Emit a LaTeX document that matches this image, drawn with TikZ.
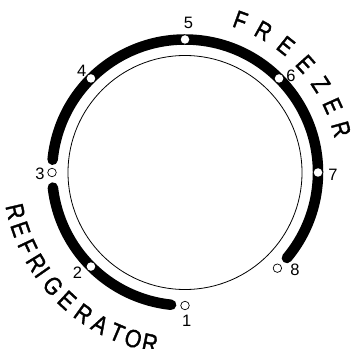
\documentclass[tikz,border=0pt]{standalone}
\usepackage{fontspec}
\setmainfont{Liberation Sans}
\newfontfamily\dialfont[FakeBold=1.5]{Liberation Sans}
\usetikzlibrary{calc}
\begin{document}
\begin{tikzpicture}[x=1pt,y=1pt,
  band/.style={line width=10.5pt, line cap=round},
  ring/.style={line width=0.8pt},
  ondot/.style={circle, fill=white, inner sep=0pt, minimum size=8.5pt},
  offdot/.style={circle, draw, line width=0.7pt, fill=white, inner sep=0pt, minimum size=8.5pt},
  num/.style={font=\fontsize{16.5}{18}\selectfont, inner sep=0pt},
  letter/.style={font=\dialfont\fontsize{25}{26}\selectfont, inner sep=0pt}]
\useasboundingbox (0,0) rectangle (355,348);
\coordinate (c) at (185,175.5);
% inner ring
\draw[ring] (c) circle[radius=117];
% thick bands
\draw[band] ($(c)+(174.5:133)$) arc[start angle=174.5, end angle=-40, radius=133];
\draw[band] ($(c)+(186.5:133)$) arc[start angle=186.5, end angle=264, radius=133];
% dots on the band
\node[ondot] (d2) at ($(c)+(225:133)$) {};
\node[ondot] (d4) at ($(c)+(135:133)$) {};
\node[ondot] (d5) at ($(c)+(90:133)$) {};
\node[ondot] (d6) at ($(c)+(45:133)$) {};
\node[ondot] (d7) at ($(c)+(0:133)$) {};
% hollow dots
\node[offdot] (d1) at ($(c)+(270:133)$) {};
\node[offdot] (d3) at ($(c)+(180:133)$) {};
\node[offdot] (d8) at ($(c)+(314:133)$) {};
% numbers
\node[num] (n1) at (186.7,27) {1};
\node[num] (n2) at (77.5,75.3) {2};
\node[num] (n3) at (40,174) {3};
\node[num] (n4) at (81.7,277.3) {4};
\node[num] (n5) at (188.5,325) {5};
\node[num] (n6) at (291,272) {6};
\node[num] (n7) at (333,173) {7};
\node[num] (n8) at (295,78) {8};
% FREEZER
\foreach \a/\l [count=\i] in {70/F,61/R,51.5/E,42/E,33/Z,24.3/E,15.5/R}
  \node[letter, rotate=\a-90] (fz\i) at ($(c)+(\a:162)$) {\scalebox{0.82}[1]{\l}};
% REFRIGERATOR
\foreach \a/\l [count=\i] in {193/R,199/E,205.2/F,211.3/R,215/I,220.7/G,227.3/E,234.3/R,240.8/A,247/T,252.7/O,258.4/R}
  \node[letter, rotate=\a+90] (rf\i) at ($(c)+(\a:174)$) {\scalebox{0.85}[1]{\l}};
\end{tikzpicture}
\end{document}
